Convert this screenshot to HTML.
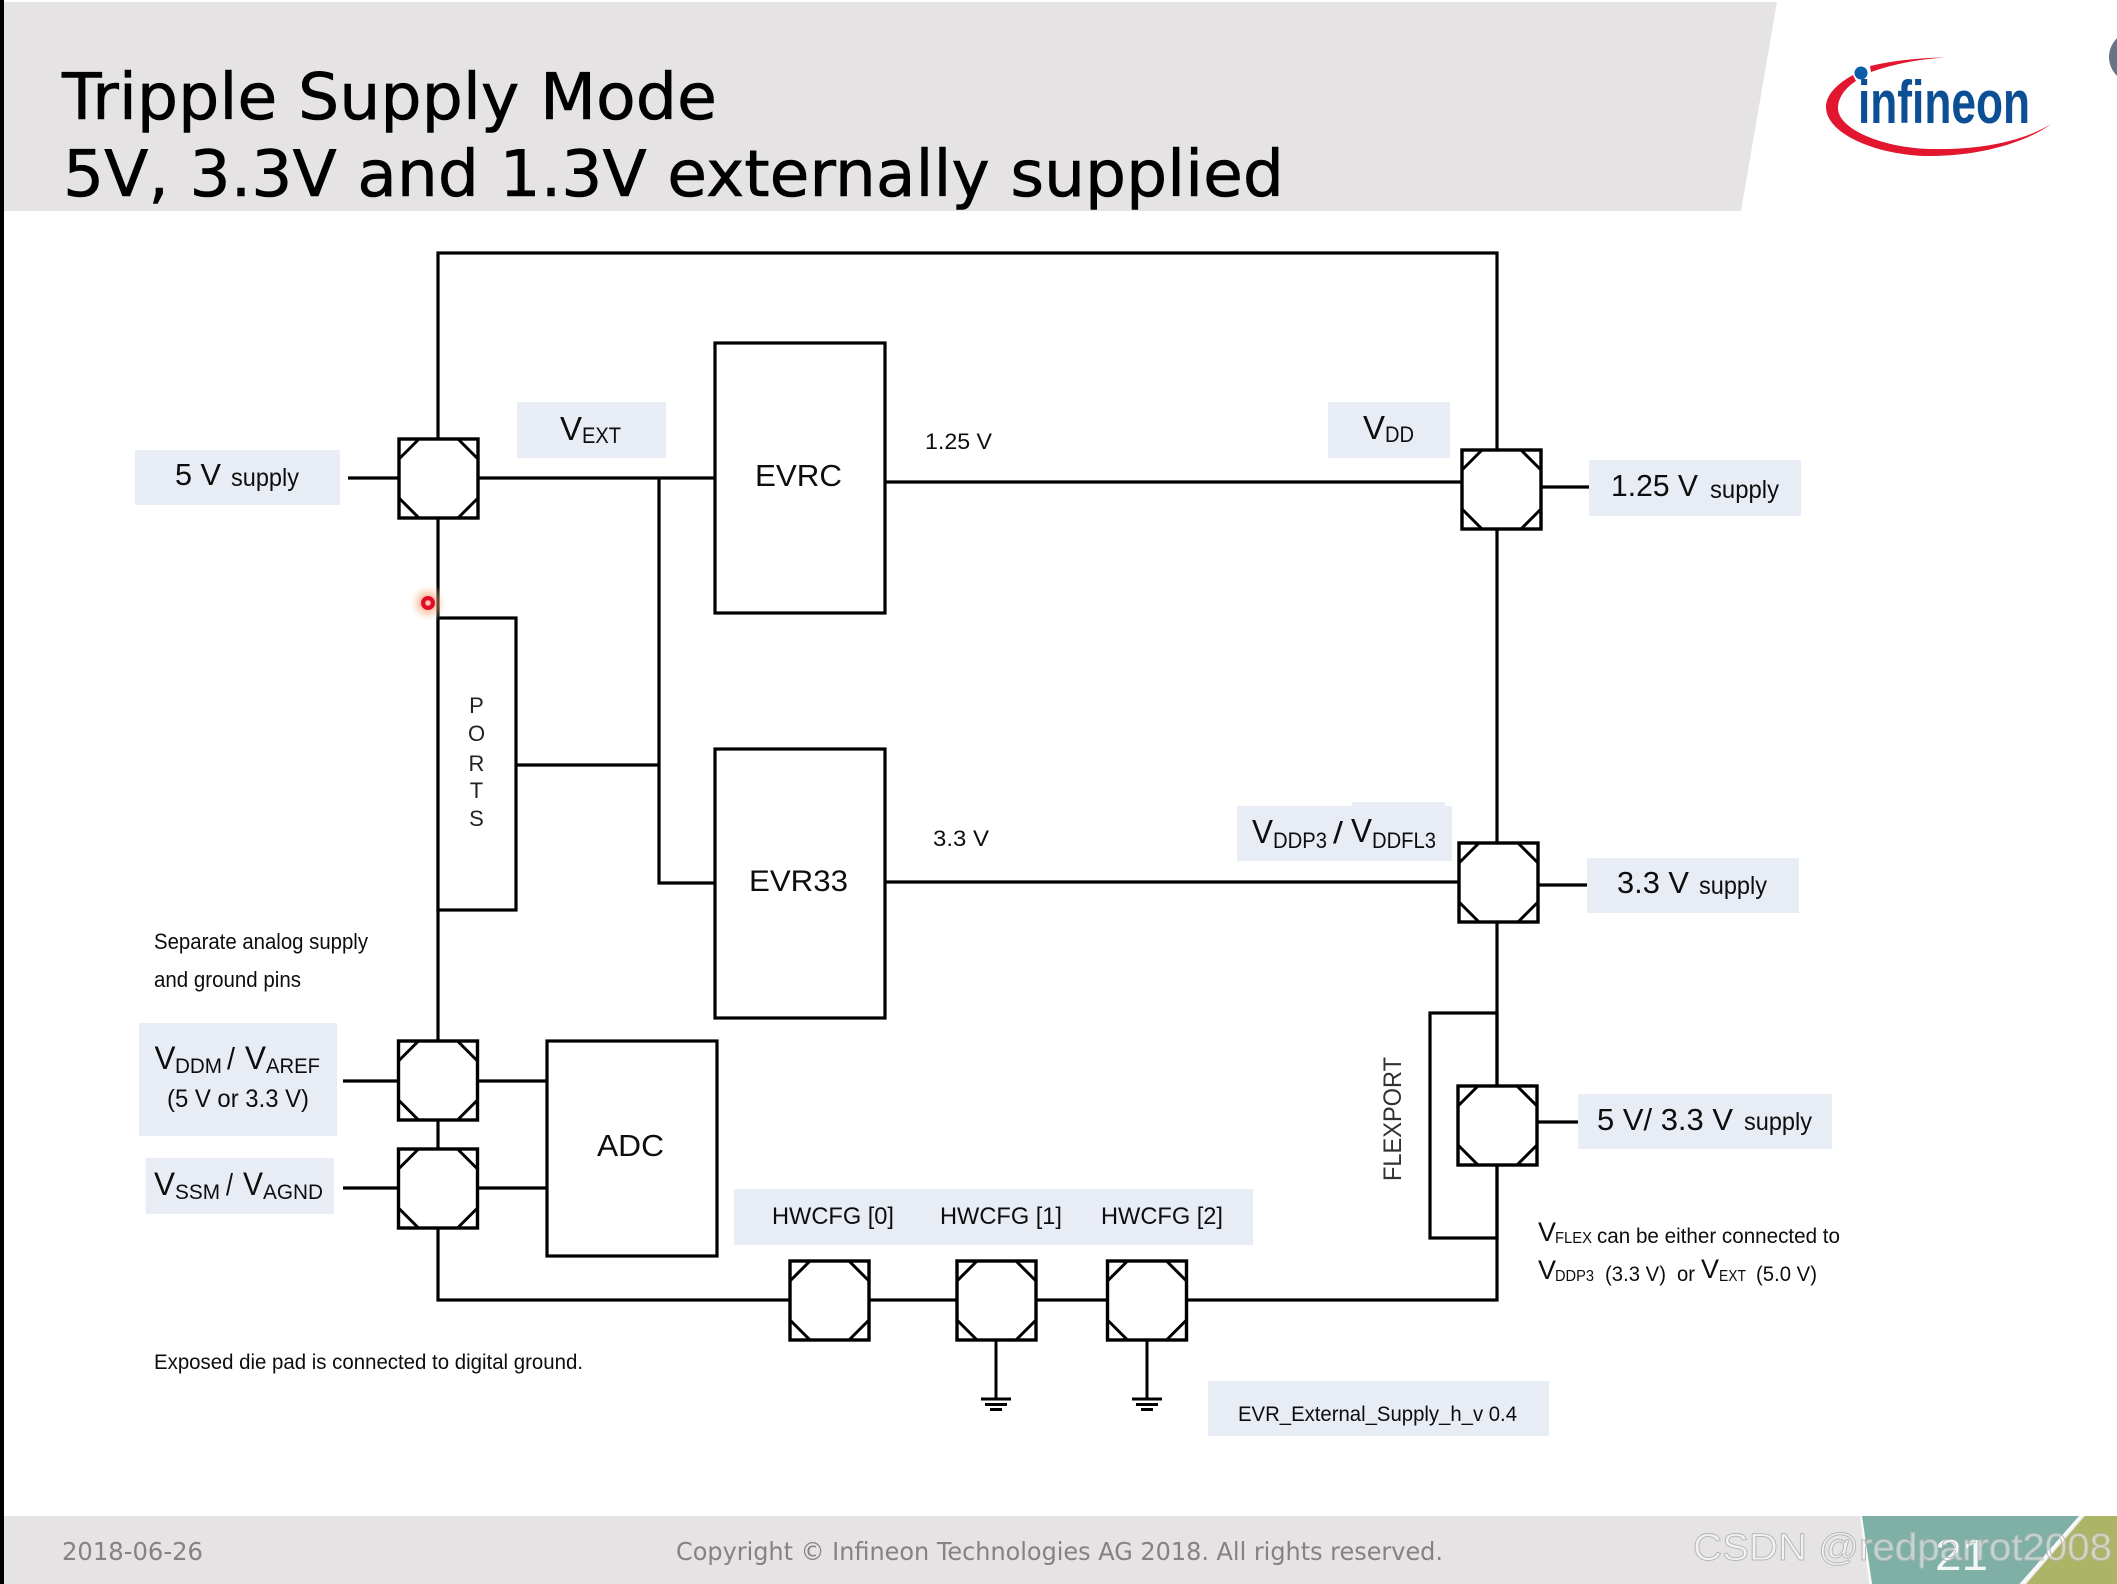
<!DOCTYPE html>
<html>
<head>
<meta charset="utf-8">
<style>
html,body{margin:0;padding:0;background:#fff;width:2117px;height:1584px;overflow:hidden}
svg{display:block}
text{font-family:"Liberation Sans",sans-serif;fill:#0d0d0d}
.t{font-family:"DejaVu Sans",sans-serif;fill:#000;stroke:#000;stroke-width:.6}
.f{font-family:"DejaVu Sans",sans-serif;fill:#858283}
.l{fill:#e8edf5}
.s{fill:none;stroke:#000;stroke-width:3.2}
</style>
</head>
<body>
<svg width="2117" height="1584" viewBox="0 0 2117 1584" xmlns="http://www.w3.org/2000/svg">
<defs>
<g id="pad">
<rect x="0" y="0" width="79" height="79" fill="#fff" stroke="#000" stroke-width="3.4"/>
<path d="M20 0L0 20M59 0L79 20M0 59L20 79M79 59L59 79" stroke="#000" stroke-width="3" fill="none"/>
</g>
<radialGradient id="glow"><stop offset="0" stop-color="#f4502a" stop-opacity=".8"/><stop offset=".55" stop-color="#f8b080" stop-opacity=".4"/><stop offset="1" stop-color="#fff" stop-opacity="0"/></radialGradient>
<filter id="soft" filterUnits="userSpaceOnUse" x="-20" y="-20" width="2157" height="1624"><feGaussianBlur stdDeviation=".3"/></filter>
</defs>
<g filter="url(#soft)">
<rect x="-20" y="-20" width="2157" height="1624" fill="#fff"/>

<!-- header -->
<polygon points="4,2 1777,2 1741,211 4,211" fill="#e6e3e4"/>
<text class="t" x="62" y="119" font-size="64" textLength="655" lengthAdjust="spacingAndGlyphs">Tripple Supply Mode</text>
<text class="t" x="63" y="196" font-size="64" textLength="1221" lengthAdjust="spacingAndGlyphs">5V, 3.3V and 1.3V externally supplied</text>

<!-- logo -->
<path d="M1870 66Q1905 58 1945 57.500Q1905 60 1871 72Z" fill="#e2142d"/>
<path d="M1853 75C1835 85 1826 96 1826 107C1826 135 1880 156 1930 156C1985 156 2030 140 2051 124C2025 140 1985 150 1930 149C1885 148 1838 130 1838 108C1838 98 1845 88 1856 81Z" fill="#e2142d"/>
<text x="1858" y="123" font-size="60" font-weight="bold" textLength="172" lengthAdjust="spacingAndGlyphs" style="fill:#0b4f94">infineon</text>
<circle cx="1861" cy="73" r="6.500" fill="#0a5ca8"/>
<circle cx="2135" cy="57" r="26" fill="#6a7389"/>

<!-- label backgrounds -->
<rect class="l" x="135" y="450" width="205" height="55"/>
<rect class="l" x="517" y="402" width="149" height="56"/>
<rect class="l" x="1328" y="402" width="122" height="56"/>
<rect class="l" x="1589" y="460" width="212" height="56"/>
<rect class="l" x="1237" y="806" width="215" height="55"/>
<rect class="l" x="1352" y="802" width="93" height="10"/>
<rect class="l" x="1587" y="858" width="212" height="55"/>
<rect class="l" x="1578" y="1094" width="254" height="55"/>
<rect class="l" x="139" y="1023" width="198" height="113"/>
<rect class="l" x="145.500" y="1158" width="188.500" height="56"/>
<rect class="l" x="734" y="1189" width="519" height="56"/>
<rect class="l" x="1208" y="1381" width="341" height="55"/>

<!-- wires -->
<rect class="s" x="438" y="253" width="1059" height="1047"/>
<path class="s" d="M348 478H715M659 478V883H715M516 765H659"/>
<path class="s" d="M885 482H1462M885 882H1459M1540 487H1589M1538 885H1587M1537 1122H1578"/>
<path class="s" d="M343 1081H398M478 1081H546M343 1188H398M478 1188H546"/>

<!-- blocks -->
<rect class="s" x="715" y="343" width="170" height="270" style="fill:#fff"/>
<rect class="s" x="715" y="749" width="170" height="269" style="fill:#fff"/>
<rect class="s" x="438" y="618" width="78" height="292" style="fill:#fff"/>
<rect class="s" x="547" y="1041" width="170" height="215" style="fill:#fff"/>
<rect class="s" x="1430" y="1013" width="67" height="225"/>

<!-- pads -->
<use href="#pad" x="399" y="439"/>
<use href="#pad" x="1462" y="450"/>
<use href="#pad" x="1459" y="843"/>
<use href="#pad" x="1458" y="1086"/>
<use href="#pad" x="398.500" y="1041"/>
<use href="#pad" x="398.500" y="1149"/>
<use href="#pad" x="790" y="1261"/>
<use href="#pad" x="957" y="1261"/>
<use href="#pad" x="1107.500" y="1261"/>

<!-- grounds -->
<path d="M996 1340V1399M981 1399H1011M985 1404.500H1007M990 1409.500H1002" stroke="#000" stroke-width="3" fill="none"/>
<path d="M1147 1340V1399M1132 1399H1162M1136 1404.500H1158M1141 1409.500H1153" stroke="#000" stroke-width="3" fill="none"/>

<!-- labels -->
<text x="175" y="485" font-size="31" textLength="46" lengthAdjust="spacingAndGlyphs">5 V</text>
<text x="231" y="486" font-size="25" textLength="68" lengthAdjust="spacingAndGlyphs">supply</text>
<text x="560" y="440" font-size="33" textLength="22" lengthAdjust="spacingAndGlyphs">V</text>
<text x="582" y="443" font-size="22" textLength="39" lengthAdjust="spacingAndGlyphs">EXT</text>
<text x="755" y="486" font-size="31" textLength="87" lengthAdjust="spacingAndGlyphs">EVRC</text>
<text x="925" y="449" font-size="22" textLength="67" lengthAdjust="spacingAndGlyphs">1.25 V</text>
<text x="1363" y="439" font-size="33" textLength="22" lengthAdjust="spacingAndGlyphs">V</text>
<text x="1385" y="442" font-size="22" textLength="29" lengthAdjust="spacingAndGlyphs">DD</text>
<text x="1611" y="496" font-size="31" textLength="87" lengthAdjust="spacingAndGlyphs">1.25 V</text>
<text x="1710" y="498" font-size="25" textLength="69" lengthAdjust="spacingAndGlyphs">supply</text>
<text x="933" y="846" font-size="22" textLength="56" lengthAdjust="spacingAndGlyphs">3.3 V</text>
<text x="749" y="891" font-size="30" textLength="99" lengthAdjust="spacingAndGlyphs">EVR33</text>

<text x="1252" y="843" font-size="33" textLength="21" lengthAdjust="spacingAndGlyphs">V</text>
<text x="1273" y="848" font-size="22" textLength="54" lengthAdjust="spacingAndGlyphs">DDP3</text>
<text x="1333" y="843" font-size="31" textLength="10" lengthAdjust="spacingAndGlyphs">/</text>
<text x="1351" y="842" font-size="33" textLength="21" lengthAdjust="spacingAndGlyphs">V</text>
<text x="1372" y="848" font-size="22" textLength="64" lengthAdjust="spacingAndGlyphs">DDFL3</text>

<text x="1617" y="893" font-size="31" textLength="72" lengthAdjust="spacingAndGlyphs">3.3 V</text>
<text x="1699" y="894" font-size="25" textLength="68" lengthAdjust="spacingAndGlyphs">supply</text>
<text x="1597" y="1130" font-size="31" textLength="136" lengthAdjust="spacingAndGlyphs">5 V/ 3.3 V</text>
<text x="1744" y="1130" font-size="25" textLength="68" lengthAdjust="spacingAndGlyphs">supply</text>

<text transform="translate(1401 1181) rotate(-90)" font-size="25" textLength="124" lengthAdjust="spacingAndGlyphs" style="fill:#333">FLEXPORT</text>

<text x="1538" y="1241" font-size="27" textLength="18" lengthAdjust="spacingAndGlyphs">V</text>
<text x="1555" y="1243" font-size="16" textLength="37" lengthAdjust="spacingAndGlyphs">FLEX</text>
<text x="1597" y="1243" font-size="21" textLength="243" lengthAdjust="spacingAndGlyphs">can be either connected to</text>
<text x="1538" y="1279" font-size="27" textLength="18" lengthAdjust="spacingAndGlyphs">V</text>
<text x="1555" y="1281" font-size="16" textLength="39" lengthAdjust="spacingAndGlyphs">DDP3</text>
<text x="1605" y="1281" font-size="21" textLength="61" lengthAdjust="spacingAndGlyphs">(3.3 V)</text>
<text x="1677" y="1281" font-size="21" textLength="18" lengthAdjust="spacingAndGlyphs">or</text>
<text x="1701" y="1278" font-size="27" textLength="18" lengthAdjust="spacingAndGlyphs">V</text>
<text x="1719" y="1281" font-size="16" textLength="27" lengthAdjust="spacingAndGlyphs">EXT</text>
<text x="1756" y="1281" font-size="21" textLength="61" lengthAdjust="spacingAndGlyphs">(5.0 V)</text>

<text x="1238" y="1421" font-size="21" textLength="279" lengthAdjust="spacingAndGlyphs">EVR_External_Supply_h_v 0.4</text>

<text x="154" y="949" font-size="22" textLength="214" lengthAdjust="spacingAndGlyphs">Separate analog supply</text>
<text x="154" y="987" font-size="22" textLength="147" lengthAdjust="spacingAndGlyphs">and ground pins</text>

<text x="154.500" y="1069" font-size="32" textLength="21" lengthAdjust="spacingAndGlyphs">V</text>
<text x="175" y="1073" font-size="21" textLength="47" lengthAdjust="spacingAndGlyphs">DDM</text>
<text x="227" y="1069" font-size="31" textLength="8" lengthAdjust="spacingAndGlyphs">/</text>
<text x="245" y="1069" font-size="32" textLength="21" lengthAdjust="spacingAndGlyphs">V</text>
<text x="266" y="1073" font-size="21" textLength="54" lengthAdjust="spacingAndGlyphs">AREF</text>
<text x="167" y="1107" font-size="25" textLength="142" lengthAdjust="spacingAndGlyphs">(5 V or 3.3 V)</text>

<text x="154" y="1195" font-size="32" textLength="21" lengthAdjust="spacingAndGlyphs">V</text>
<text x="175" y="1199" font-size="21" textLength="45" lengthAdjust="spacingAndGlyphs">SSM</text>
<text x="226" y="1195" font-size="31" textLength="7" lengthAdjust="spacingAndGlyphs">/</text>
<text x="243" y="1195" font-size="32" textLength="20" lengthAdjust="spacingAndGlyphs">V</text>
<text x="263" y="1199" font-size="21" textLength="60" lengthAdjust="spacingAndGlyphs">AGND</text>

<text x="597" y="1156" font-size="31" textLength="67" lengthAdjust="spacingAndGlyphs">ADC</text>
<text x="154" y="1369" font-size="21" textLength="429" lengthAdjust="spacingAndGlyphs">Exposed die pad is connected to digital ground.</text>

<g font-size="22" text-anchor="middle">
<text x="476.500" y="713" style="fill:#222">P</text>
<text x="476.500" y="741" style="fill:#222">O</text>
<text x="476.500" y="771" style="fill:#222">R</text>
<text x="476.500" y="798" style="fill:#222">T</text>
<text x="476.500" y="826" style="fill:#222">S</text>
</g>

<text x="772" y="1224" font-size="24" textLength="122" lengthAdjust="spacingAndGlyphs">HWCFG [0]</text>
<text x="940" y="1224" font-size="24" textLength="122" lengthAdjust="spacingAndGlyphs">HWCFG [1]</text>
<text x="1101" y="1224" font-size="24" textLength="122" lengthAdjust="spacingAndGlyphs">HWCFG [2]</text>

<!-- laser pointer -->
<circle cx="428" cy="603" r="20" fill="url(#glow)"/>
<circle cx="428" cy="603" r="5" fill="none" stroke="#e0102c" stroke-width="4"/>
<circle cx="428" cy="603" r="2" fill="#f7c8c8"/>

<!-- footer -->
<rect x="4" y="1516" width="2133" height="88" fill="#e6e3e4"/>
<polygon points="1860,1516 2083,1516 2008,1604 1872,1604" fill="#fff" opacity=".8"/>
<polygon points="1862,1516 2079,1516 2002,1604 1875,1604" fill="#7fb0a6"/>
<polygon points="2085,1516 2137,1516 2137,1604 2009,1604" fill="#abb565"/>
<text class="f" x="62" y="1560" font-size="25" textLength="141" lengthAdjust="spacingAndGlyphs">2018-06-26</text>
<text class="f" x="676" y="1560" font-size="25" textLength="767" lengthAdjust="spacingAndGlyphs">Copyright © Infineon Technologies AG 2018. All rights reserved.</text>
<text x="1935" y="1570" font-size="44" textLength="53" lengthAdjust="spacingAndGlyphs" style="fill:#f4f7f4">21</text>
<text x="1693" y="1560" font-size="38" textLength="419" lengthAdjust="spacingAndGlyphs" style="fill:rgba(255,255,255,.5);stroke:#b5b5b5;stroke-width:.9">CSDN @redparrot2008</text>

<!-- left edge -->
<rect x="-20" y="-20" width="24" height="1624" fill="#000"/>
</g>
</svg>
</body>
</html>
